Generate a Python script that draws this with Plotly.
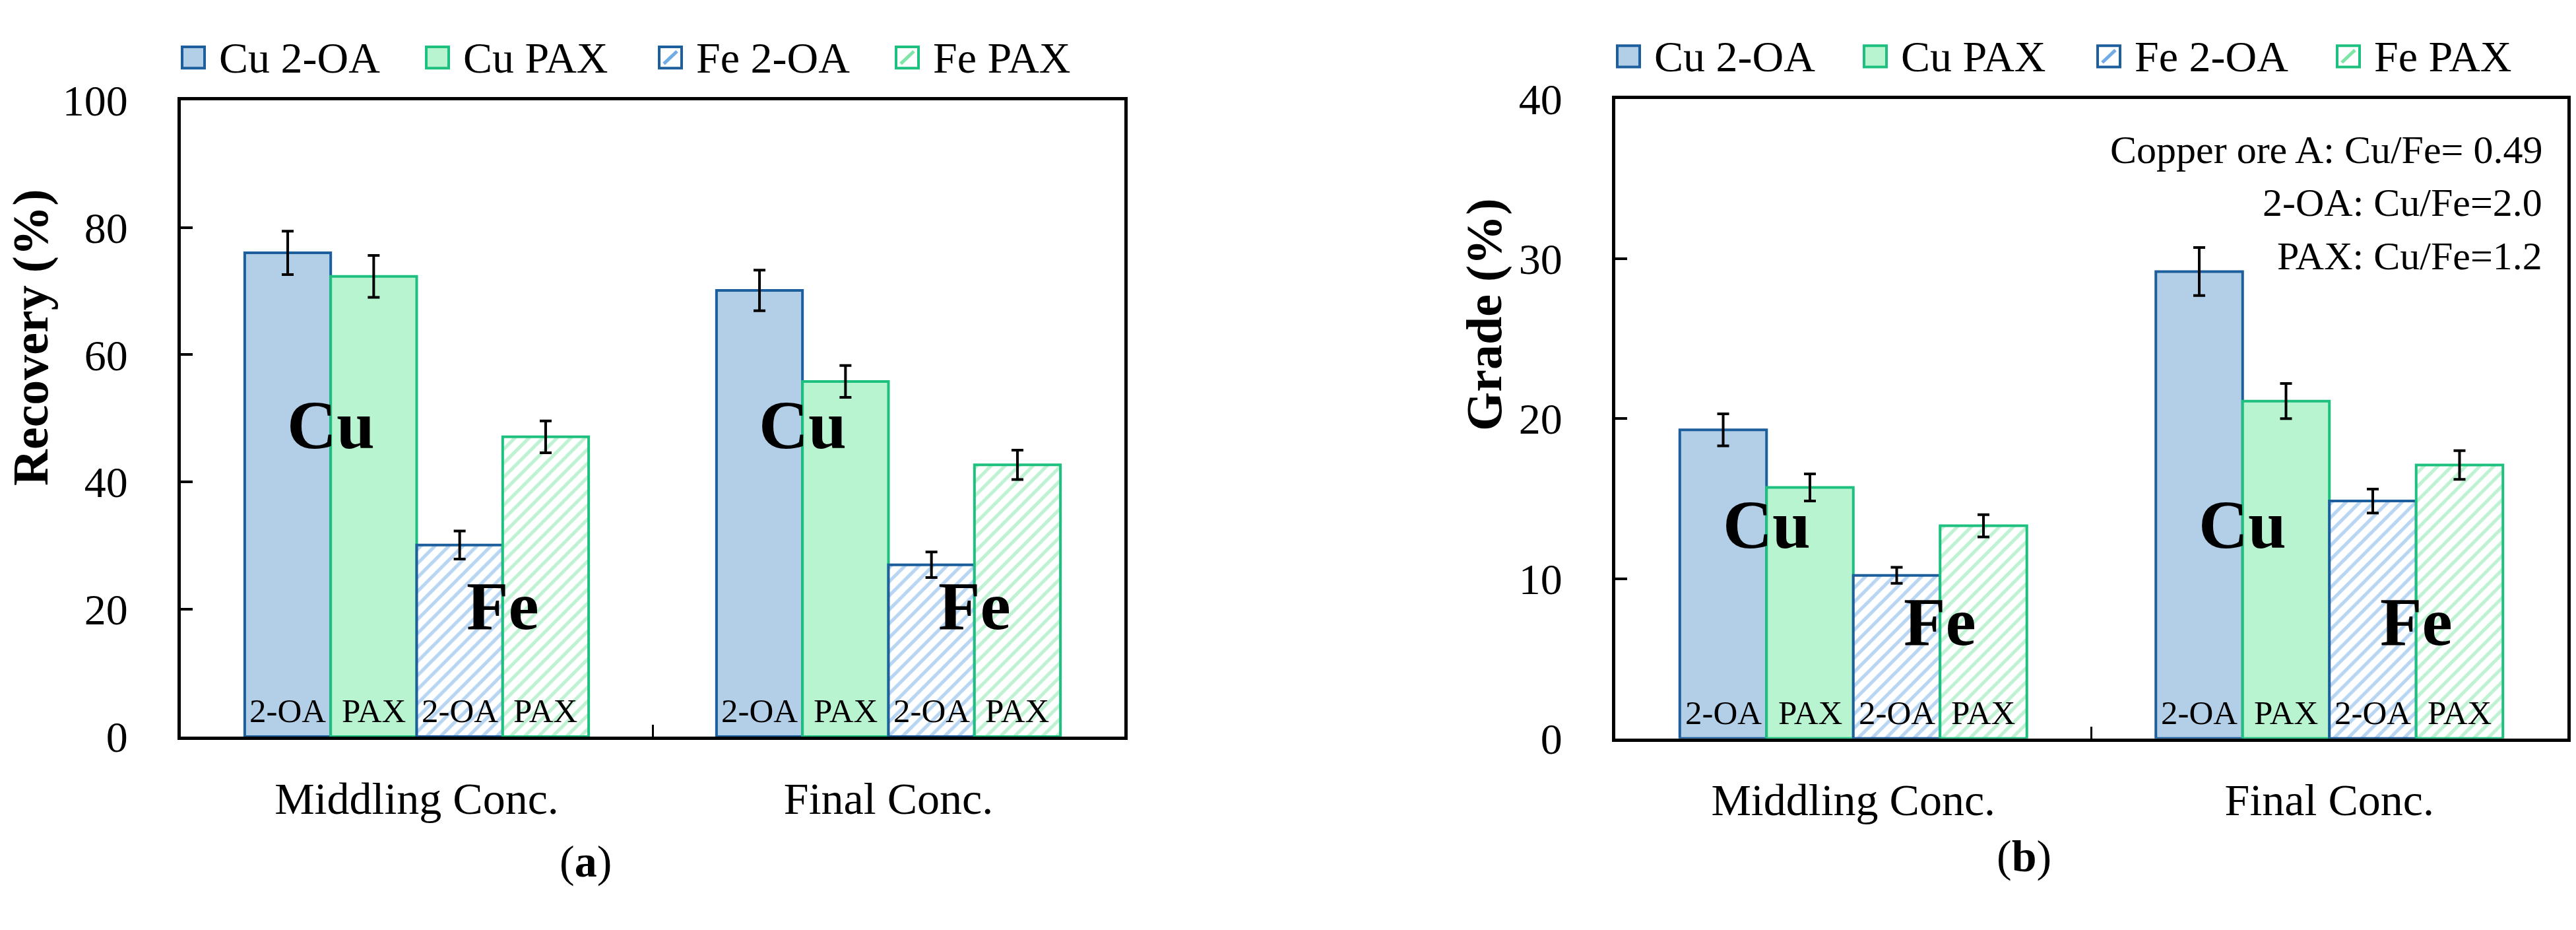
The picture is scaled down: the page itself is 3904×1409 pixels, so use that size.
import plotly.graph_objects as go

W, H = 3904, 1409

# ---------------- data ----------------
categories = ["Middling Conc.", "Final Conc."]
series_names = ["Cu 2-OA", "Cu PAX", "Fe 2-OA", "Fe PAX"]
bar_labels = ["2-OA", "PAX", "2-OA", "PAX"]

# (a) Recovery (%)
rec_cu_2oa = [76.0, 70.1]
rec_cu_pax = [72.3, 55.8]
rec_fe_2oa = [30.1, 27.0]
rec_fe_pax = [47.1, 42.7]
rec_cu_2oa_err = [3.4, 3.2]
rec_cu_pax_err = [3.3, 2.5]
rec_fe_2oa_err = [2.2, 2.0]
rec_fe_pax_err = [2.5, 2.3]

# (b) Grade (%)
gr_cu_2oa = [19.3, 29.2]
gr_cu_pax = [15.7, 21.1]
gr_fe_2oa = [10.2, 14.85]
gr_fe_pax = [13.3, 17.1]
gr_cu_2oa_err = [1.0, 1.5]
gr_cu_pax_err = [0.85, 1.1]
gr_fe_2oa_err = [0.5, 0.75]
gr_fe_pax_err = [0.7, 0.9]

rec_ticks = [0, 20, 40, 60, 80, 100]
gr_ticks = [0, 10, 20, 30, 40]

info_lines = ["Copper ore A: Cu/Fe= 0.49", "2-OA: Cu/Fe=2.0", "PAX: Cu/Fe=1.2"]

# ---------------- styles ----------------
FONT = "Liberation Serif, Times New Roman, serif"
BLUE_FILL = "#b3cfe8"
BLUE_LINE = "#1d5e9c"
BLUE_STRIPE = "#72ace6"
GREEN_FILL = "#b9f4d1"
GREEN_LINE = "#1ec07f"
GREEN_STRIPE = "#80e6a8"

styles = [
    dict(color=BLUE_FILL, line=dict(color=BLUE_LINE, width=4)),
    dict(color=GREEN_FILL, line=dict(color=GREEN_LINE, width=4)),
    dict(color="white", line=dict(color=BLUE_LINE, width=4),
         pattern=dict(shape="/", fgcolor=BLUE_STRIPE, bgcolor="white", size=15, solidity=0.35)),
    dict(color="white", line=dict(color=GREEN_LINE, width=4),
         pattern=dict(shape="/", fgcolor=GREEN_STRIPE, bgcolor="white", size=15, solidity=0.35)),
]


def px(x):
    return x / W


def py(y):
    return 1 - y / H


fig = go.Figure()

panels = [
    ("x", "y", [rec_cu_2oa, rec_cu_pax, rec_fe_2oa, rec_fe_pax],
     [rec_cu_2oa_err, rec_cu_pax_err, rec_fe_2oa_err, rec_fe_pax_err]),
    ("x2", "y2", [gr_cu_2oa, gr_cu_pax, gr_fe_2oa, gr_fe_pax],
     [gr_cu_2oa_err, gr_cu_pax_err, gr_fe_2oa_err, gr_fe_pax_err]),
]

for xa, ya, vals, errs in panels:
    for name, v, e, st in zip(series_names, vals, errs, styles):
        fig.add_trace(go.Bar(
            x=categories, y=v, name=name, xaxis=xa, yaxis=ya,
            marker=st, showlegend=False,
            error_y=dict(type="data", array=e, color="black", thickness=4, width=9),
        ))

axis_common = dict(
    showline=True, linecolor="black", linewidth=5, mirror=True,
    ticks="inside", tickcolor="black", showgrid=False, zeroline=False,
    tickfont=dict(family=FONT, size=66, color="black"),
)

fig.update_layout(
    width=W, height=H, autosize=False,
    margin=dict(l=0, r=0, t=0, b=0),
    paper_bgcolor="white", plot_bgcolor="white",
    barmode="group", bargap=0.271, bargroupgap=0,
    font=dict(family=FONT, color="black"),
    xaxis=dict(domain=[px(274), px(1704)], anchor="y", type="category",
               range=[-0.5, 1.5], tickson="boundaries", ticklen=18, tickwidth=3,
               ticklabelstandoff=30, **{**axis_common, "tickfont": dict(family=FONT, size=68, color="black")}),
    yaxis=dict(domain=[py(1139), py(122)], anchor="x", range=[0, 100],
               tickvals=rec_ticks, ticklen=18, tickwidth=4, ticklabelstandoff=62, **axis_common),
    xaxis2=dict(domain=[px(2448), px(3891)], anchor="y2", type="category",
                range=[-0.5, 1.5], tickson="boundaries", ticklen=18, tickwidth=3,
                ticklabelstandoff=30, **{**axis_common, "tickfont": dict(family=FONT, size=68, color="black")}),
    yaxis2=dict(domain=[py(1142), py(120)], anchor="x2", range=[0, 40],
                tickvals=gr_ticks, ticklen=18, tickwidth=4, ticklabelstandoff=62, **axis_common),
)

ann = []
shapes = []

# axis titles
ann.append(dict(text="<b>Recovery (%)</b>", x=px(47), y=py(502), xref="paper", yref="paper",
                textangle=-90, showarrow=False, xanchor="center", yanchor="middle",
                font=dict(family=FONT, size=76, color="black")))
ann.append(dict(text="<b>Grade (%)</b>", x=px(2250), y=py(465), xref="paper", yref="paper",
                textangle=-90, showarrow=False, xanchor="center", yanchor="middle",
                font=dict(family=FONT, size=76, color="black")))

# panel letters
ann.append(dict(text="(<b>a</b>)", x=px(887), y=py(1338), xref="paper", yref="paper",
                showarrow=False, xanchor="center", yanchor="middle",
                font=dict(family=FONT, size=68, color="black")))
ann.append(dict(text="(<b>b</b>)", x=px(3067), y=py(1330), xref="paper", yref="paper",
                showarrow=False, xanchor="center", yanchor="middle",
                font=dict(family=FONT, size=68, color="black")))

# element labels inside bars
bw = (1 - 0.271) / 4
for xr, yr, cu_y, fe_y in [("x", "y", 49.0, 20.6), ("x2", "y2", 13.4, 7.3)]:
    for gi in range(len(categories)):
        ann.append(dict(text="<b>Cu</b>", x=gi - bw, y=cu_y, xref=xr, yref=yr, showarrow=False,
                        xanchor="center", yanchor="middle", font=dict(family=FONT, size=104, color="black")))
        ann.append(dict(text="<b>Fe</b>", x=gi + bw, y=fe_y, xref=xr, yref=yr, showarrow=False,
                        xanchor="center", yanchor="middle", font=dict(family=FONT, size=104, color="black")))
        for bi, lab in enumerate(bar_labels):
            ann.append(dict(text=lab, x=gi + (bi - 1.5) * bw, y=0.04, xref=xr, yref=yr + " domain",
                            showarrow=False, xanchor="center", yanchor="middle",
                            font=dict(family=FONT, size=51, color="black")))

# info text in panel (b)
for txt, yy in zip(info_lines, [201, 286, 371]):
    ann.append(dict(text=txt, x=px(3855), y=py(yy), xref="paper", yref="paper", showarrow=False,
                    xanchor="right", yanchor="middle", font=dict(family=FONT, size=60, color="black")))

# manual legends
leg_specs = [([276, 646, 999, 1358], 54), ([2451, 2825, 3179, 3542], 52)]
sw = 34
for xs, yc in leg_specs:
    for i, (x0, name) in enumerate(zip(xs, series_names)):
        st = styles[i]
        fill = st["color"]
        lc = st["line"]["color"]
        shapes.append(dict(type="rect", xref="paper", yref="paper",
                           x0=px(x0), x1=px(x0 + sw), y0=py(yc + sw / 2), y1=py(yc - sw / 2),
                           fillcolor=fill, line=dict(color=lc, width=4)))
        if "pattern" in st:
            shapes.append(dict(type="line", xref="paper", yref="paper",
                               x0=px(x0 + 7), x1=px(x0 + sw - 7), y0=py(yc + sw / 2 - 7), y1=py(yc - sw / 2 + 7),
                               line=dict(color=st["pattern"]["fgcolor"], width=5)))
        ann.append(dict(text=name, x=px(x0 + sw + 20), y=py(yc), xref="paper", yref="paper",
                        showarrow=False, xanchor="left", yanchor="middle",
                        font=dict(family=FONT, size=66, color="black")))

fig.update_layout(annotations=ann, shapes=shapes)

fig.write_html("out.html", config={"displayModeBar": False},
               post_script="document.body.style.margin='0';document.body.style.overflow='hidden';")
